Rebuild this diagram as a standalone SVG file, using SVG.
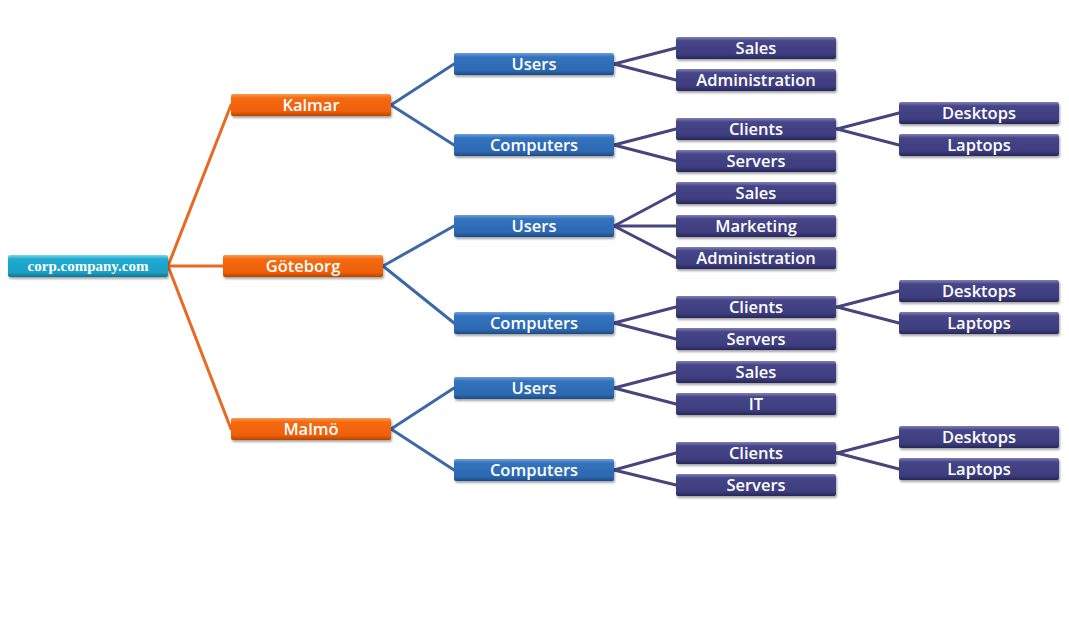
<svg xmlns="http://www.w3.org/2000/svg" width="1069" height="624" viewBox="0 0 1069 624">
<defs>
<linearGradient id="gOr" x1="0" y1="0" x2="0" y2="1">
<stop offset="0" stop-color="#FA9A55"/><stop offset="0.18" stop-color="#F66A12"/><stop offset="0.8" stop-color="#EE5F08"/><stop offset="1" stop-color="#B84300"/>
</linearGradient>
<linearGradient id="gBl" x1="0" y1="0" x2="0" y2="1">
<stop offset="0" stop-color="#6E9FDA"/><stop offset="0.18" stop-color="#3473BE"/><stop offset="0.8" stop-color="#2C68B0"/><stop offset="1" stop-color="#1D4A85"/>
</linearGradient>
<linearGradient id="gPu" x1="0" y1="0" x2="0" y2="1">
<stop offset="0" stop-color="#8080B8"/><stop offset="0.18" stop-color="#454588"/><stop offset="0.8" stop-color="#3D3D7E"/><stop offset="1" stop-color="#262659"/>
</linearGradient>
<linearGradient id="gCy" x1="0" y1="0" x2="0" y2="1">
<stop offset="0" stop-color="#7FD6EC"/><stop offset="0.18" stop-color="#21ABD0"/><stop offset="0.8" stop-color="#1A9FC4"/><stop offset="1" stop-color="#0E7494"/>
</linearGradient>
<filter id="sh" x="-10%" y="-30%" width="120%" height="170%">
<feDropShadow dx="1" dy="2" stdDeviation="1.3" flood-color="#000" flood-opacity="0.35"/>
</filter>
</defs>
<style>
.n rect{filter:url(#sh)}
.or rect{fill:url(#gOr)}
.bl rect{fill:url(#gBl)}
.pu rect{fill:url(#gPu)}
.cy rect{fill:url(#gCy)}
.n text{fill:#FFFFFF;font-family:"Open Sans","Liberation Sans",sans-serif;font-weight:600;font-size:16.5px;text-anchor:middle}
.cy text{font-family:"Liberation Serif","DejaVu Serif",serif;font-weight:700;font-size:15px}
.c line{stroke-width:3;stroke-linecap:round}
.co line{stroke:#E8691F}
.cb line{stroke:#3C69A6}
.cp line{stroke:#46467F}
</style>
<rect width="1069" height="624" fill="#FFFFFF"/>
<g id="connectors" class="c">
<g class="co">
<line x1="168" y1="266" x2="231" y2="105"/>
<line x1="168" y1="266" x2="223" y2="266"/>
<line x1="168" y1="266" x2="231" y2="429"/>
</g>
<g class="cb">
<line x1="391" y1="105" x2="454" y2="64"/>
<line x1="391" y1="105" x2="454" y2="145"/>
<line x1="383" y1="266" x2="454" y2="226"/>
<line x1="383" y1="266" x2="454" y2="323"/>
<line x1="391" y1="429" x2="454" y2="388"/>
<line x1="391" y1="429" x2="454" y2="470"/>
</g>
<g class="cp">
<line x1="614" y1="64" x2="676" y2="48"/>
<line x1="614" y1="64" x2="676" y2="80"/>
<line x1="614" y1="145" x2="676" y2="129"/>
<line x1="614" y1="145" x2="676" y2="161"/>
<line x1="837" y1="129" x2="899" y2="113"/>
<line x1="837" y1="129" x2="899" y2="145"/>
<line x1="614" y1="226" x2="676" y2="193"/>
<line x1="614" y1="226" x2="676" y2="226"/>
<line x1="614" y1="226" x2="676" y2="258"/>
<line x1="614" y1="323" x2="676" y2="307"/>
<line x1="614" y1="323" x2="676" y2="339"/>
<line x1="837" y1="307" x2="899" y2="291"/>
<line x1="837" y1="307" x2="899" y2="323"/>
<line x1="614" y1="388" x2="676" y2="372"/>
<line x1="614" y1="388" x2="676" y2="404"/>
<line x1="614" y1="470" x2="676" y2="453"/>
<line x1="614" y1="470" x2="676" y2="485"/>
<line x1="837" y1="453" x2="899" y2="437"/>
<line x1="837" y1="453" x2="899" y2="469"/>
</g>
</g>
<g id="root" class="n cy"><rect x="8" y="255" width="160" height="22" rx="2"/><text x="88" y="271">corp.company.com</text></g>
<g id="kalmar" class="n or"><rect x="231" y="94" width="160" height="22" rx="2"/><text x="311" y="111">Kalmar</text></g>
<g id="goteborg" class="n or"><rect x="223" y="255" width="160" height="22" rx="2"/><text x="303" y="272">Göteborg</text></g>
<g id="malmo" class="n or"><rect x="231" y="418" width="160" height="22" rx="2"/><text x="311" y="435">Malmö</text></g>
<g id="k-users" class="n bl"><rect x="454" y="53" width="160" height="22" rx="2"/><text x="534" y="70">Users</text></g>
<g id="k-computers" class="n bl"><rect x="454" y="134" width="160" height="22" rx="2"/><text x="534" y="151">Computers</text></g>
<g id="g-users" class="n bl"><rect x="454" y="215" width="160" height="22" rx="2"/><text x="534" y="232">Users</text></g>
<g id="g-computers" class="n bl"><rect x="454" y="312" width="160" height="22" rx="2"/><text x="534" y="329">Computers</text></g>
<g id="m-users" class="n bl"><rect x="454" y="377" width="160" height="22" rx="2"/><text x="534" y="394">Users</text></g>
<g id="m-computers" class="n bl"><rect x="454" y="459" width="160" height="22" rx="2"/><text x="534" y="476">Computers</text></g>
<g id="k-sales" class="n pu"><rect x="676" y="37" width="160" height="22" rx="2"/><text x="756" y="54">Sales</text></g>
<g id="k-admin" class="n pu"><rect x="676" y="69" width="160" height="22" rx="2"/><text x="756" y="86">Administration</text></g>
<g id="k-clients" class="n pu"><rect x="676" y="118" width="160" height="22" rx="2"/><text x="756" y="135">Clients</text></g>
<g id="k-servers" class="n pu"><rect x="676" y="150" width="160" height="22" rx="2"/><text x="756" y="167">Servers</text></g>
<g id="k-desktops" class="n pu"><rect x="899" y="102" width="160" height="22" rx="2"/><text x="979" y="119">Desktops</text></g>
<g id="k-laptops" class="n pu"><rect x="899" y="134" width="160" height="22" rx="2"/><text x="979" y="151">Laptops</text></g>
<g id="g-sales" class="n pu"><rect x="676" y="182" width="160" height="22" rx="2"/><text x="756" y="199">Sales</text></g>
<g id="g-marketing" class="n pu"><rect x="676" y="215" width="160" height="22" rx="2"/><text x="756" y="232">Marketing</text></g>
<g id="g-admin" class="n pu"><rect x="676" y="247" width="160" height="22" rx="2"/><text x="756" y="264">Administration</text></g>
<g id="g-clients" class="n pu"><rect x="676" y="296" width="160" height="22" rx="2"/><text x="756" y="313">Clients</text></g>
<g id="g-servers" class="n pu"><rect x="676" y="328" width="160" height="22" rx="2"/><text x="756" y="345">Servers</text></g>
<g id="g-desktops" class="n pu"><rect x="899" y="280" width="160" height="22" rx="2"/><text x="979" y="297">Desktops</text></g>
<g id="g-laptops" class="n pu"><rect x="899" y="312" width="160" height="22" rx="2"/><text x="979" y="329">Laptops</text></g>
<g id="m-sales" class="n pu"><rect x="676" y="361" width="160" height="22" rx="2"/><text x="756" y="378">Sales</text></g>
<g id="m-it" class="n pu"><rect x="676" y="393" width="160" height="22" rx="2"/><text x="756" y="410">IT</text></g>
<g id="m-clients" class="n pu"><rect x="676" y="442" width="160" height="22" rx="2"/><text x="756" y="459">Clients</text></g>
<g id="m-servers" class="n pu"><rect x="676" y="474" width="160" height="22" rx="2"/><text x="756" y="491">Servers</text></g>
<g id="m-desktops" class="n pu"><rect x="899" y="426" width="160" height="22" rx="2"/><text x="979" y="443">Desktops</text></g>
<g id="m-laptops" class="n pu"><rect x="899" y="458" width="160" height="22" rx="2"/><text x="979" y="475">Laptops</text></g>
</svg>
